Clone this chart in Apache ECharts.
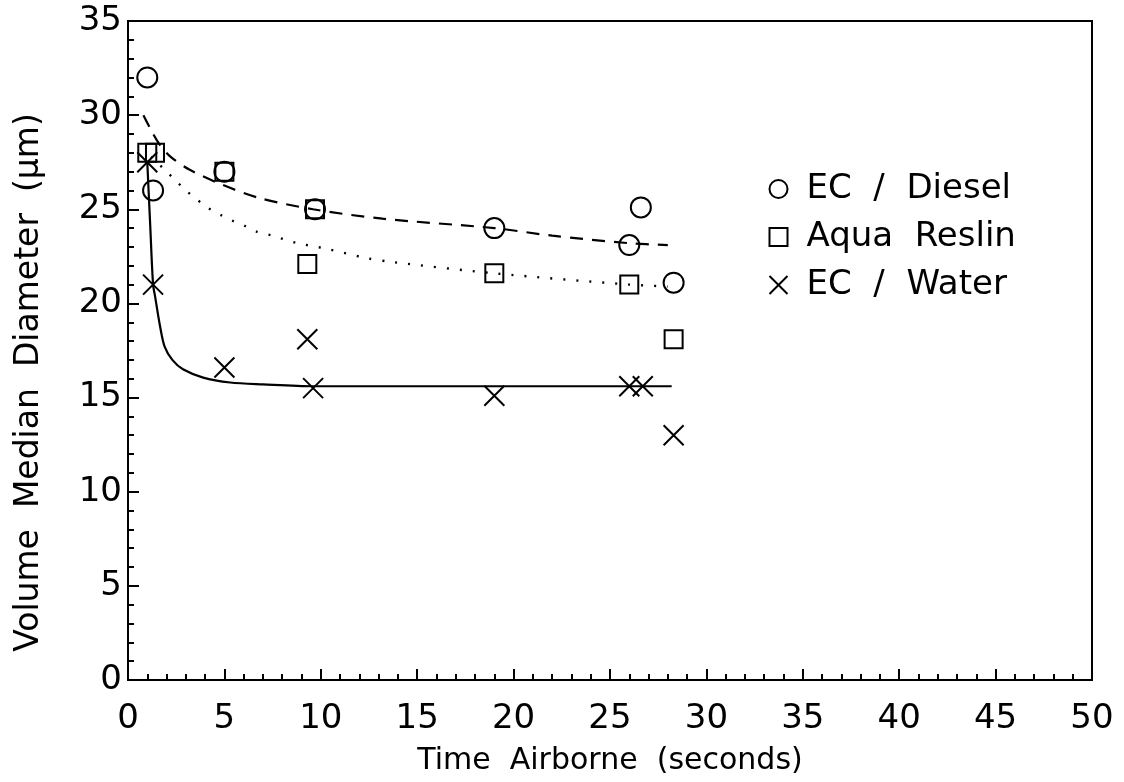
<!DOCTYPE html>
<html>
<head>
<meta charset="utf-8">
<script src="https://cdn.jsdelivr.net/npm/echarts@6/dist/echarts.min.js"></script>
<style>
  html, body { margin: 0; padding: 0; background: #fff; }
  #chart { width: 1124px; height: 782px; }
</style>
</head>
<body>
<div id="chart"></div>
<script>
// measured points
var dieselX = [1.0, 1.3, 5.0, 9.7, 19.0, 26.0, 26.6, 28.3];
var dieselY = [32.0, 26.0, 27.0, 25.0, 24.0, 23.1, 25.1, 21.1];
var aquaX = [1.0, 1.4, 5.0, 9.7, 9.3, 19.0, 26.0, 28.3];
var aquaY = [28.0, 28.0, 27.0, 25.0, 22.1, 21.6, 21.0, 18.1];
var waterX = [1.0, 1.3, 5.0, 9.3, 9.6, 19.0, 26.0, 26.7, 28.3];
var waterY = [27.5, 21.0, 16.6, 18.1, 15.5, 15.1, 15.6, 15.6, 13.0];

// fitted curves
var dieselFitX = [0.8, 1.2, 1.6, 2.2, 3.2, 4.9, 6.8, 9.6, 13.2, 19.0, 22.0, 26.0, 28.0];
var dieselFitY = [30.0, 29.2, 28.5, 27.8, 27.1, 26.3, 25.6, 25.0, 24.5, 24.0, 23.6, 23.2, 23.1];
var aquaFitX = [1.2, 2.0, 2.5, 3.0, 3.6, 4.1, 4.8, 5.4, 6.1, 6.7, 7.5, 8.1, 8.8, 10.3, 12.4, 13.7, 19.0, 26.0, 28.0];
var aquaFitY = [27.8, 27.0, 26.5, 26.0, 25.5, 25.1, 24.7, 24.4, 24.1, 23.8, 23.6, 23.4, 23.2, 22.9, 22.4, 22.2, 21.6, 21.0, 20.9];
var waterFitX = [1.0, 1.15, 1.3, 1.4, 1.66, 1.9, 2.3, 2.85, 3.9, 5.3, 7.0, 9.6, 19.0, 26.0, 28.2];
var waterFitY = [27.5, 24.2, 21.0, 20.4, 18.8, 17.7, 17.0, 16.5, 16.06, 15.8, 15.7, 15.6, 15.6, 15.6, 15.6];

var seriesNames = ['EC  /  Diesel', 'Aqua  Reslin', 'EC  /  Water'];

function pairs(xs, ys) {
    var out = [];
    for (var i = 0; i < xs.length; i++) {
        out.push([xs[i], ys[i]]);
    }
    return out;
}

var FONT = 'DejaVu Sans';
var crossPath = 'path://M0,0L10,10M10,0L0,10';

var markStyle = {color: 'none', borderColor: '#000', borderWidth: 2, opacity: 1};

var dom = document.getElementById('chart');
var myChart = echarts.init(dom);
var option = {
    backgroundColor: '#fff',
    animation: false,
    textStyle: {fontFamily: FONT, color: '#000'},
    grid: {
        left: 128, right: 32, top: 21, bottom: 102,
        show: true, borderColor: '#000', borderWidth: 2
    },
    legend: {
        left: 762, top: 167,
        orient: 'vertical',
        itemGap: 14,
        itemWidth: 18, itemHeight: 18,
        textStyle: {fontFamily: FONT, fontSize: 34, color: '#000', padding: [0, 0, 0, 14]},
        data: seriesNames
    },
    xAxis: {
        type: 'value', min: 0, max: 50, interval: 5,
        name: 'Time  Airborne  (seconds)',
        nameLocation: 'middle', nameGap: 66,
        nameTextStyle: {fontFamily: FONT, fontSize: 30, color: '#000'},
        axisLine: {lineStyle: {color: '#000', width: 2}},
        axisTick: {inside: true, length: 11, lineStyle: {color: '#000', width: 2}},
        minorTick: {show: true, splitNumber: 5, length: 6, lineStyle: {color: '#000', width: 2}},
        splitLine: {show: false},
        axisLabel: {fontFamily: FONT, fontSize: 34, color: '#000', margin: 22}
    },
    yAxis: {
        type: 'value', min: 0, max: 35, interval: 5,
        name: 'Volume  Median  Diameter  (\u03bcm)',
        nameLocation: 'middle', nameGap: 82, nameRotate: 90,
        nameTextStyle: {fontFamily: FONT, fontSize: 33, color: '#000', padding: [0, 64, 0, 0]},
        axisLine: {lineStyle: {color: '#000', width: 2}},
        axisTick: {inside: true, length: 11, lineStyle: {color: '#000', width: 2}},
        minorTick: {show: true, splitNumber: 5, length: 6, lineStyle: {color: '#000', width: 2}},
        splitLine: {show: false},
        axisLabel: {fontFamily: FONT, fontSize: 34, color: '#000', margin: 6}
    },
    series: [
        {
            name: 'dieselFit', type: 'line', data: pairs(dieselFitX, dieselFitY),
            showSymbol: false, smooth: 0.3,
            lineStyle: {color: '#000', width: 2.2, type: [13, 9]}, z: 1
        },
        {
            name: 'aquaFit', type: 'line', data: pairs(aquaFitX, aquaFitY),
            showSymbol: false, smooth: 0.3,
            lineStyle: {color: '#000', width: 2.4, type: [2, 11]}, z: 1
        },
        {
            name: 'waterFit', type: 'line', data: pairs(waterFitX, waterFitY),
            showSymbol: false, smooth: 0.3,
            lineStyle: {color: '#000', width: 2.2}, z: 1
        },
        {
            name: seriesNames[0], type: 'scatter', data: pairs(dieselX, dieselY),
            symbol: 'circle', symbolSize: 20, itemStyle: markStyle
        },
        {
            name: seriesNames[1], type: 'scatter', data: pairs(aquaX, aquaY),
            symbol: 'rect', symbolSize: 18, itemStyle: markStyle
        },
        {
            name: seriesNames[2], type: 'scatter', data: pairs(waterX, waterY),
            symbol: crossPath, symbolSize: 20, itemStyle: markStyle
        }
    ]
};
myChart.setOption(option);
</script>
</body>
</html>
